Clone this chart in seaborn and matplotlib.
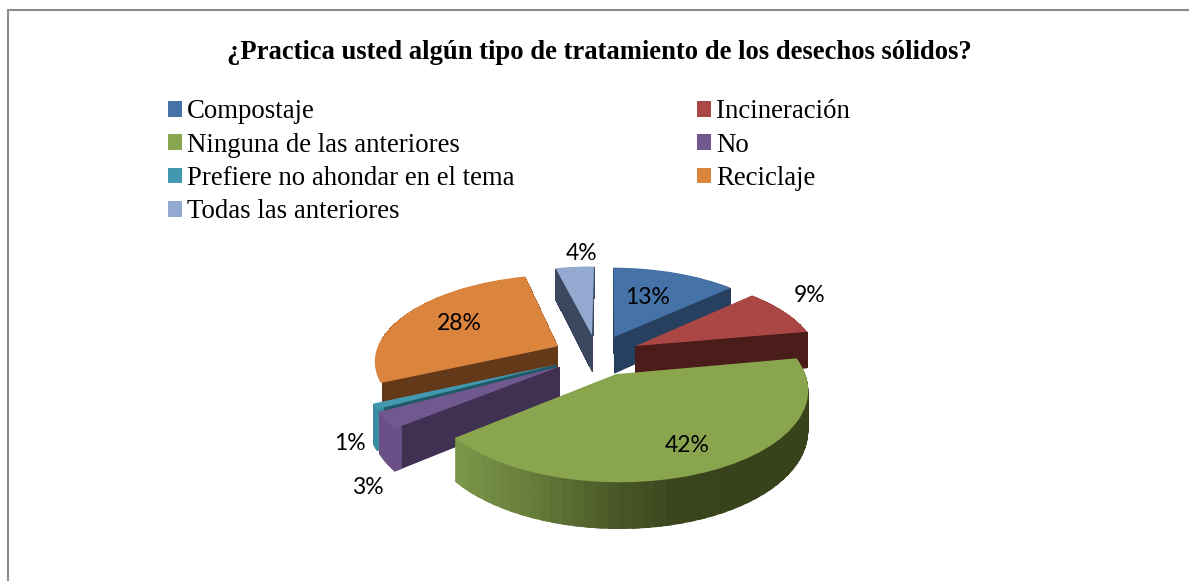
import numpy as np
import matplotlib
matplotlib.use("Agg")
import matplotlib.pyplot as plt
import matplotlib.transforms as mtransforms
from matplotlib.lines import Line2D
from matplotlib.patches import Wedge, Rectangle
import seaborn as sns

title = "¿Practica usted algún tipo de tratamiento de los desechos sólidos?"
categories = ["Compostaje", "Incineración", "Ninguna de las anteriores", "No",
              "Prefiere no ahondar en el tema", "Reciclaje", "Todas las anteriores"]
values = [13, 9, 42, 3, 1, 28, 4]

top_colors = ["#4572A7", "#AA4643", "#89A54E", "#71588F", "#4198AF", "#DB843D", "#93A9CF"]
wall_colors = ["#27405F", "#4A1C1A", "#38421B", "#403152", "#205867", "#63391A", "#3C4860"]
rim_colors = ["#27405F", "#4A1C1A", None, "#6A5086", "#3A8CA2", "#63391A", "#3C4860"]
label_xy = [(648, 298), (810, 295), (687, 445), (368, 488), (350, 443), (459, 324), (582, 254)]
draw_order = [6, 0, 5, 1, 4, 3, 2]
legend_order = [0, 2, 4, 6, 1, 3, 5]

# projection of the unit pie on the page
OX, OY, AX, BY, K, DEPTH = 597, 355, 183, 85, 0.153, 38


class Persp(mtransforms.Transform):
    input_dims = 2
    output_dims = 2
    is_separable = False
    has_inverse = False

    def __init__(self, z=0.0):
        super().__init__()
        self.z = z

    def transform_non_affine(self, v):
        v = np.asarray(v, float)
        x, y = v[:, 0], v[:, 1]
        w = 1 + K * y
        return np.column_stack([OX + AX * x / w, OY + (-BY * y + self.z) / w])


def green_rim(theta):
    t = theta - 360 if theta > 180 else theta
    return np.interp(t, [-142, -115, -95, -77, -60, 12], [0, 0.3, 0.68, 0.95, 1, 1])


sns.set_style("white")
plt.rcParams["font.family"] = ["Liberation Serif"]
plt.rcParams["text.color"] = "black"
fig = plt.figure(figsize=(11.89, 5.81), dpi=100, facecolor="white")
ax = fig.add_axes([0, 0, 1, 1])

wedges, _ = ax.pie(values, colors=sns.color_palette(top_colors), explode=[0.24] * len(values),
                   startangle=89.5, counterclock=False, radius=1,
                   wedgeprops=dict(linewidth=0))
ax.set_aspect("auto")
ax.set_xlim(0, 1189)
ax.set_ylim(581, 0)
ax.axis("off")

light = np.array(matplotlib.colors.to_rgb("#7E9A4B"))
dark = np.array(matplotlib.colors.to_rgb("#38421B"))
orange_clip = Rectangle((382, 0), 800, 581, transform=ax.transData)
z = 10
for i in draw_order:
    wd = wedges[i]
    c, t1, t2 = wd.center, wd.theta1, wd.theta2
    gradient = rim_colors[i] is None
    step = 0.5 if gradient else 1.0
    for depth in np.arange(DEPTH, 0, -step):
        tr = Persp(depth) + ax.transData
        smooth = depth == DEPTH
        if gradient:
            for a in np.arange(t1, t2, 3.0):
                f = float(green_rim((a + 1.5) % 360))
                col = light * (1 - f) + dark * f
                p = Wedge(c, 1, a, min(a + 5.0, t2), width=0.12, fc=col, lw=0, transform=tr,
                          zorder=z, antialiased=True)
                ax.add_patch(p)
                z += 1
            continue
        p = Wedge(c, 1, t1, t2, fc=wall_colors[i], lw=0, transform=tr, zorder=z, antialiased=smooth)
        ax.add_patch(p)
        if i == 5:
            p.set_clip_path(orange_clip)
        z += 1
        p = Wedge(c, 1, t1, t2, width=0.035, fc=rim_colors[i], lw=0, transform=tr, zorder=z,
                  antialiased=smooth)
        ax.add_patch(p)
        if i == 5:
            p.set_clip_path(orange_clip)
        z += 1
    wd.set_transform(Persp(0) + ax.transData)
    wd.set_zorder(z)
    z += 1

for v, (x, y) in zip(values, label_xy):
    ax.text(x, y, f"{v}%", family="Lato", fontsize=16.5, color="black",
            ha="center", va="center", zorder=z + 1)

fig.text(599 / 1189, 1 - 52.5 / 581, title, fontsize=19.2, fontweight="bold",
         family="Liberation Serif", ha="center", va="center", color="black")

leg = ax.legend([wedges[i] for i in legend_order], [categories[i] for i in legend_order],
                ncol=2, frameon=False, fontsize=19.3, loc="upper left",
                bbox_to_anchor=(168 / 1189, 1 - 99.5 / 581), borderaxespad=0, borderpad=0,
                handlelength=0.525, handleheight=0.525, handletextpad=0.19,
                columnspacing=6.8, labelspacing=0.31)
leg.set_zorder(z + 2)

fig.add_artist(Line2D([7.5 / 1189, 7.5 / 1189, 1], [0, 1 - 10 / 581, 1 - 10 / 581],
                      transform=fig.transFigure, color="#8C8C8C", lw=1.5,
                      solid_joinstyle="miter"))

fig.savefig("out.png", dpi=100)
